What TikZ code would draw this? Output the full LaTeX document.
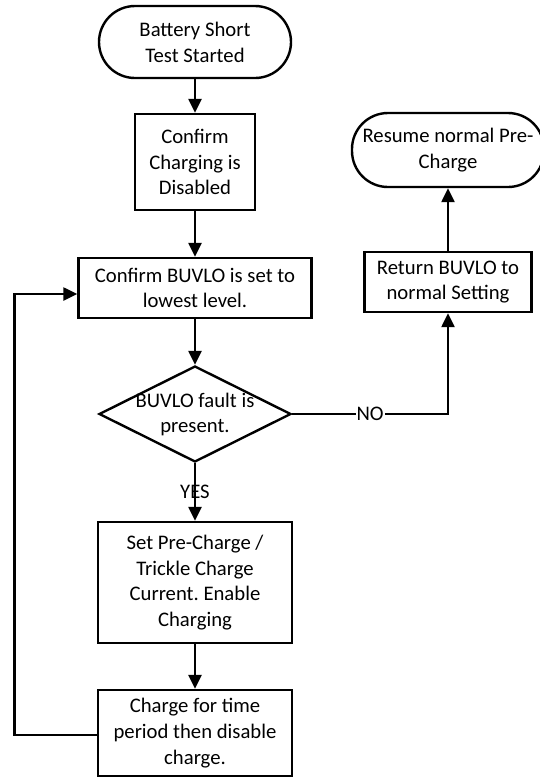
\documentclass[tikz,border=0pt]{standalone}
\usepackage{fontspec}
\setmainfont{Carlito}
\frenchspacing
\usetikzlibrary{shapes.geometric,arrows.meta}
\begin{document}
\begin{tikzpicture}[x=1pt,y=-1pt,
  every node/.style={font=\fontsize{20.7pt}{25.8pt}\selectfont, align=center, inner sep=0pt},
  term/.style={draw, line width=2.4pt, rounded corners=36pt},
  proc/.style={draw, line width=2.4pt},
  dec/.style={draw, diamond, line width=2.4pt},
  conn/.style={line width=2.4pt, -{Triangle[length=14pt,width=13pt]}}]
\useasboundingbox (0,0) rectangle (540,780);
\node[term, minimum width=192pt, minimum height=72pt] (t1) at (195,42) {Battery Short\\Test Started};
\node[proc, minimum width=120pt, minimum height=96pt] (b2) at (195,162) {Confirm\\Charging is\\Disabled};
\node[proc, minimum width=233pt, minimum height=60pt] (b3) at (195,288) {Confirm BUVLO is set to\\lowest level.};
\node[dec, minimum width=192pt, minimum height=96pt] (d) at (195,414) {};
\node (dt) at (195,414.5) {BUVLO fault is\\present.};
\node[proc, minimum width=194pt, minimum height=121pt] (b5) at (195,582.5) {Set Pre-Charge /\\Trickle Charge\\Current. Enable\\Charging};
\node[proc, minimum width=194pt, minimum height=86pt] (b6) at (195,733) {Charge for time\\period then disable\\charge.};
\node[proc, minimum width=167pt, minimum height=60pt] (r1) at (448,282) {Return BUVLO to\\normal Setting};
\node[term, minimum width=192pt, minimum height=74pt] (t2) at (448,150) {Resume normal Pre-\\Charge};
\coordinate (cno) at (448,414);
\coordinate (cloop) at (14.5,735);
\coordinate (cin) at (14.5,294);
\draw[conn] (t1.south) -- (b2.north);
\draw[conn] (b2.south) -- (b3.north);
\draw[conn] (b3.south) -- (d.north);
\draw[conn] (d.south) -- node[midway] (yes) {YES} (b5.north);
\draw[conn] (b5.south) -- (b6.north);
\draw[conn] (d.east) -- node[midway, fill=white, inner sep=1pt] (no) {NO} (cno) -- (r1.south);
\draw[conn] (r1.north) -- (t2.south);
\draw[conn] (b6.west |- cloop) -- (cloop) -- (cin) -- (cin -| b3.west);
\end{tikzpicture}
\end{document}
